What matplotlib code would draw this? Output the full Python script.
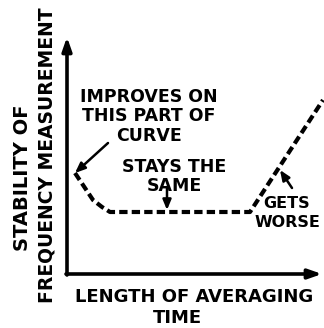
import matplotlib.pyplot as plt

# stability curve, in axis units (origin at the corner of the axes)
avg_time = [8, 18, 26, 35, 43, 183, 256]
stability = [101, 86, 74, 67, 62, 62, 174]

ylabel_lines = ["STABILITY OF", "FREQUENCY MEASUREMENT"]
xlabel_lines = ["LENGTH OF AVERAGING", "TIME"]
note_improves = "IMPROVES ON\nTHIS PART OF\nCURVE"
note_same = "STAYS THE\nSAME"
note_worse = "GETS\nWORSE"

plt.rcParams['font.family'] = ['DejaVu Sans']

fig = plt.figure(figsize=(3.24, 3.28), dpi=100)
ax = fig.add_axes([0, 0, 1, 1])
ax.set_xlim(-67, 257)
ax.set_ylim(-54, 274)
ax.axis('off')

# hand-drawn style axes with arrow heads
axis_arrow = dict(arrowstyle='-|>,head_length=0.8,head_width=0.28', lw=2.6,
                  color='black', shrinkA=0, shrinkB=0)
ax.annotate('', xy=(0, 237), xytext=(0, -1), arrowprops=axis_arrow)
ax.annotate('', xy=(255, 0), xytext=(-1, 0), arrowprops=axis_arrow)

ax.plot(avg_time, stability, color='black', lw=3.0,
        linestyle=(0, (2, 1)), dash_capstyle='butt')

txt = dict(fontweight='bold', ha='center', va='top')
note_arrow = dict(arrowstyle='-|>,head_length=0.6,head_width=0.25', lw=1.8,
                  color='black', shrinkA=0, shrinkB=0)

ax.text(82, 186, note_improves, fontsize=12.5, linespacing=1.1, **txt)
ax.annotate('', xy=(8, 101), xytext=(41, 131), arrowprops=note_arrow)

ax.text(107, 116, note_same, fontsize=12.5, linespacing=1.1, **txt)
ax.annotate('', xy=(100, 64), xytext=(100, 87), arrowprops=note_arrow)

ax.text(220, 78, note_worse, fontsize=11.5, linespacing=1.35, **txt)
ax.annotate('', xy=(213, 104), xytext=(225, 86), arrowprops=note_arrow)

ax.text(127, -14, xlabel_lines[0], fontsize=13, **txt)
ax.text(110, -35, xlabel_lines[1], fontsize=13, **txt)

ax.text(-44, 96, ylabel_lines[0], fontsize=14, fontweight='bold',
        rotation=90, ha='center', va='center')
ax.text(-20, 119, ylabel_lines[1], fontsize=13.5, fontweight='bold',
        rotation=90, ha='center', va='center')

fig.savefig('out.png', dpi=100)
